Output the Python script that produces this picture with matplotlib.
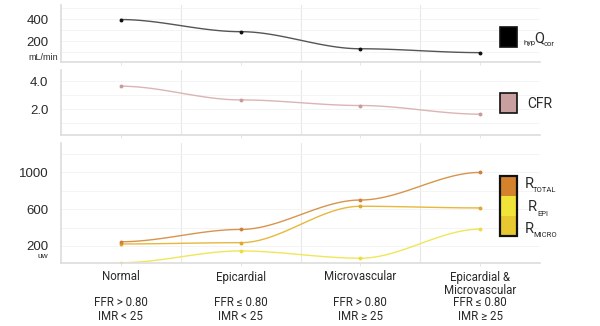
import numpy as np
import matplotlib.pyplot as plt
from matplotlib.patches import Rectangle

plt.rcParams["font.family"] = ["Liberation Sans", "DejaVu Sans"]

CATEGORIES = ["Normal", "Epicardial", "Microvascular", "Epicardial &\nMicrovascular"]
FFR_LABELS = ["FFR > 0.80", "FFR \u2264 0.80", "FFR > 0.80", "FFR \u2264 0.80"]
IMR_LABELS = ["IMR < 25", "IMR < 25", "IMR \u2265 25", "IMR \u2265 25"]

Q_COR = [395, 285, 130, 95]
CFR = [3.64, 2.66, 2.26, 1.64]
R_TOTAL = [246, 380, 700, 1000]
R_MICRO = [222, 236, 632, 614]
R_EPI = [18, 146, 67, 383]

NARROW = ["Liberation Sans Narrow", "Roboto", "DejaVu Sans"]
TEXT = "#2a2a2a"


def smooth(xs, ys, n=40):
    # sigmoid-like segments with flat tangents at every point
    px, py = [], []
    for i in range(len(xs) - 1):
        t = np.linspace(0, 1, n)
        s = 3 * t**2 - 2 * t**3
        px.extend(xs[i] + (xs[i + 1] - xs[i]) * t)
        py.extend(ys[i] + (ys[i + 1] - ys[i]) * s)
    return np.array(px), np.array(py)


def style_axis(ax, ylim, major, minor):
    ax.set_xlim(0, 4)
    ax.set_ylim(*ylim)
    ax.set_yticks(major)
    ax.set_yticks(minor, minor=True)
    ax.set_xticks([1, 2, 3])
    ax.set_xticks([0.5, 1.5, 2.5, 3.5], minor=True)
    ax.tick_params(axis="x", which="both", labelbottom=False, length=2, color="#e0e0e0")
    ax.tick_params(axis="x", which="major", length=0)
    ax.tick_params(axis="y", which="both", length=0, labelsize=9.5, pad=9, labelcolor=TEXT)
    for side in ["top", "right"]:
        ax.spines[side].set_visible(False)
    for side in ["left", "bottom"]:
        ax.spines[side].set_color("#dddddd")
        ax.spines[side].set_linewidth(1.2)
    ax.grid(True, which="major", axis="x", color="#e8e8e8", linewidth=0.8)
    ax.grid(True, which="both", axis="y", color="#f2f2f2", linewidth=0.6)
    ax.set_axisbelow(True)


def draw_series(ax, ys, line_color, marker_color):
    xs = np.arange(len(ys)) + 0.5
    px, py = smooth(xs, ys)
    ax.plot(px, py, color=line_color, linewidth=1.0)
    ax.plot(xs, ys, "o", color=marker_color, markersize=1.8)


def px_text(x, y, s, size, **kw):
    return fig.text(x / 600, 1 - y / 326, s, fontsize=size, family=NARROW,
                    color=TEXT, **kw)


fig = plt.figure(figsize=(6.0, 3.26), dpi=100)

left, width = 61 / 600, 479 / 600
ax1 = fig.add_axes([left, 1 - 62 / 326, width, 57 / 326])
ax2 = fig.add_axes([left, 1 - 135 / 326, width, 65 / 326])
ax3 = fig.add_axes([left, 1 - 263 / 326, width, 120 / 326])

style_axis(ax1, (10, 527), [200, 400], [100, 300, 500])
ax1.set_yticklabels(["200", "400"])
draw_series(ax1, Q_COR, "#555555", "#111111")

style_axis(ax2, (0.15, 4.8), [2.0, 4.0], [1.0, 3.0])
ax2.set_yticklabels(["2.0", "4.0"])
draw_series(ax2, CFR, "#dbb4b4", "#c99a9a")

style_axis(ax3, (15, 1320), [200, 600, 1000], [400, 800, 1200])
ax3.set_yticklabels(["200", "600", "1000"])
draw_series(ax3, R_EPI, "#f0e65a", "#eedc40")
draw_series(ax3, R_MICRO, "#e8b83c", "#e0a82c")
draw_series(ax3, R_TOTAL, "#d8944c", "#d0803a")

fig.text(28 / 600, 1 - 58 / 326, "mL/min", fontsize=6.5, color=TEXT, va="center")
fig.text(38 / 600, 1 - 257 / 326, "uw", fontsize=6, color=TEXT, va="center")

# x category labels
for i, cat in enumerate(CATEGORIES):
    x = ax3.transData.transform((i + 0.5, 0))[0] / fig.bbox.width * 600
    for j, line in enumerate(cat.split("\n")):
        px_text(x, 277 + 13.5 * j, line, 8.3, ha="center", va="center")
    px_text(x, 303, FFR_LABELS[i], 8.3, ha="center", va="center")
    px_text(x, 316, IMR_LABELS[i], 8.3, ha="center", va="center")


# legend boxes
def fig_rect(x0, y0, x1, y1, color, lw=1.2):
    fig.add_artist(Rectangle((x0 / 600, 1 - y1 / 326), (x1 - x0) / 600, (y1 - y0) / 326,
                             transform=fig.transFigure, facecolor=color,
                             edgecolor="#111111", linewidth=lw))


fig_rect(500, 27, 517, 47, "#000000")
px_text(523, 43, "hyp", 5.5, va="center")
px_text(534, 38, "Q", 10.5, va="center")
px_text(544, 44, "cor", 5.5, va="center")

fig_rect(500, 93, 517, 113, "#c9a09f")
px_text(527, 104, "CFR", 10, va="center")

fig_rect(500, 176, 517, 196, "#d4832c", 0)
fig_rect(500, 196, 517, 216, "#f0e438", 0)
fig_rect(500, 216, 517, 236, "#e8c830", 0)
fig_rect(500, 176, 517, 236, "none", 1.6)

px_text(525, 184, "R", 10.5, va="center")
px_text(533, 190, "TOTAL", 5.5, va="center")
px_text(528, 207, "R", 10.5, va="center")
px_text(537, 214, "EPI", 5.5, va="center")
px_text(525, 229, "R", 10.5, va="center")
px_text(533, 235, "MICRO", 5.5, va="center")

fig.savefig("out.png", dpi=100)
